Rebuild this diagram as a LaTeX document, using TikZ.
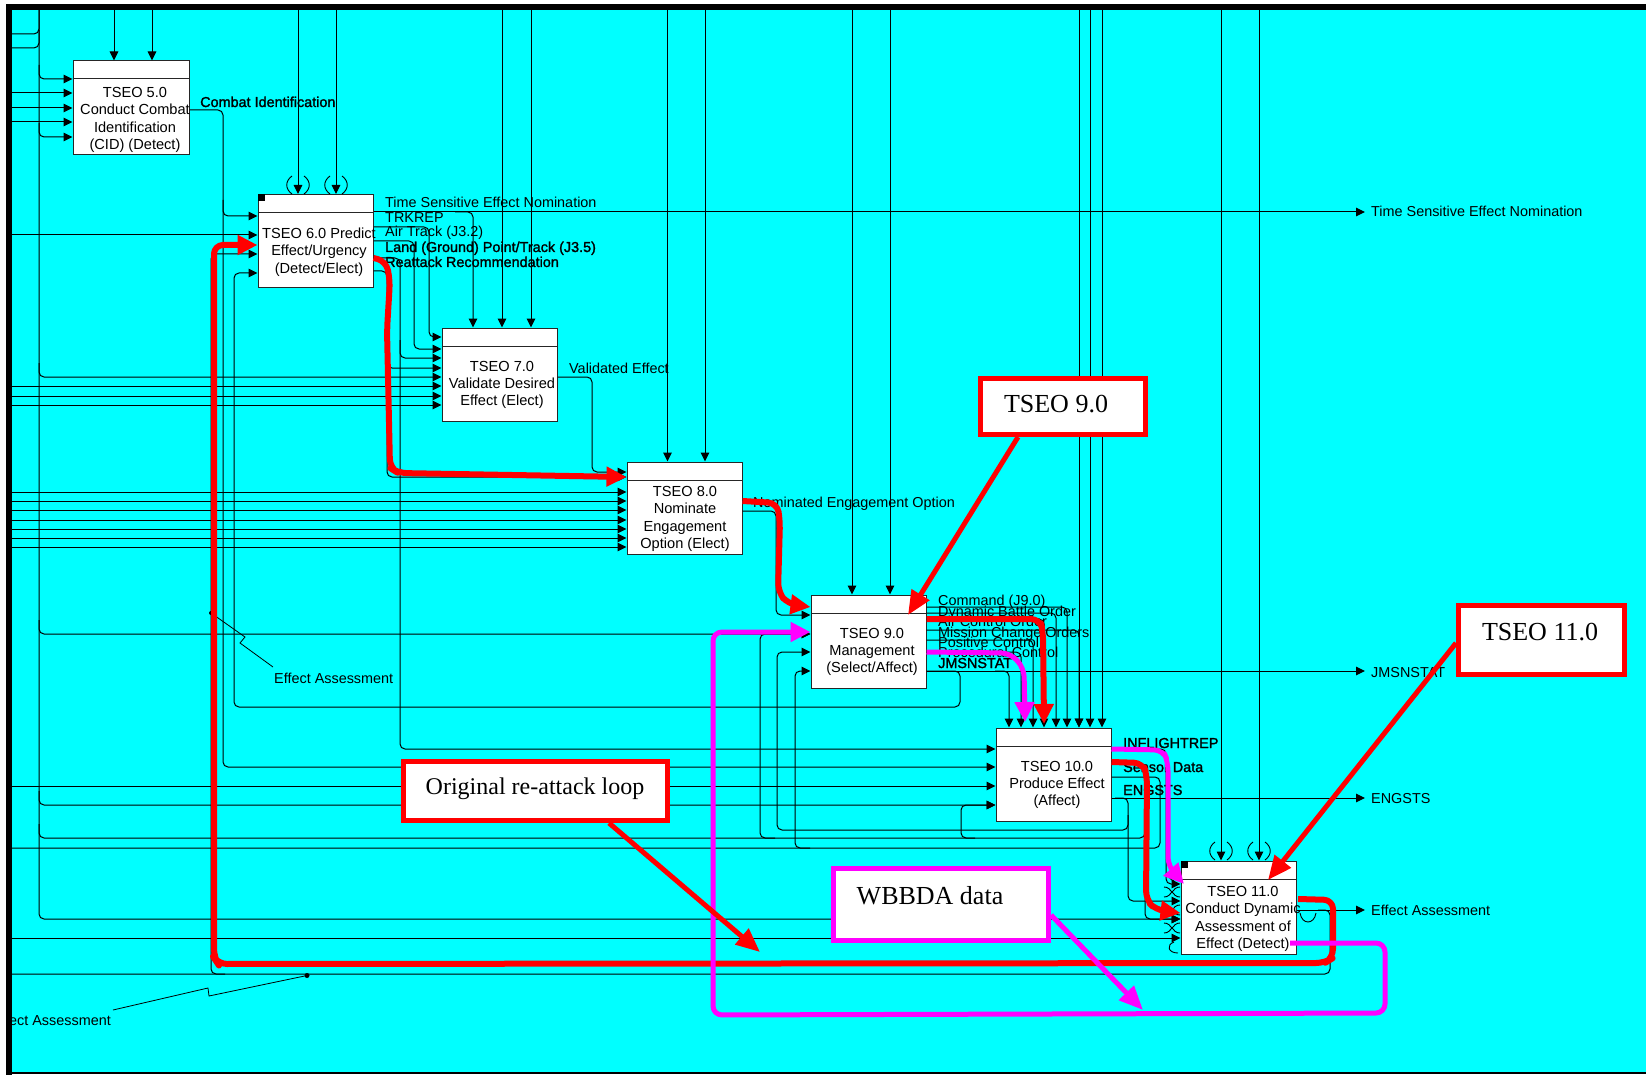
\documentclass[tikz,border=0pt]{standalone}
\usepackage{fontspec}
\setmainfont{Liberation Sans}
\newfontfamily\calloutfont{Liberation Serif}
\newfontfamily\heavyfont[FakeBold=1.5]{Liberation Sans}
\usetikzlibrary{arrows.meta,calc}

\definecolor{sky}{RGB}{0,255,255}
\definecolor{loopred}{RGB}{255,0,0}
\definecolor{wbbda}{RGB}{255,0,255}

\tikzset{
  wire/.style={line width=1pt, rounded corners=5pt},
  arrowin/.style={-{Triangle[length=9pt,width=8.5pt]}},
  proc/.style={draw=black!85, line width=1pt, fill=white, minimum width=115pt, minimum height=93pt, inner sep=0pt},
  proctext/.style={align=center, inner sep=0pt, font=\fontsize{14.6}{17.3}\selectfont},
  lbl/.style={anchor=base west, inner sep=0pt, font=\fontsize{14.4}{17}\selectfont},
  hlbl/.style={anchor=base west, inner sep=0pt, font=\heavyfont\fontsize{14.4}{17}\selectfont},
  redloop/.style={draw=loopred, line width=6pt, rounded corners=9pt, line join=round, -{Triangle[length=20pt,width=19pt]}},
  pinkloop/.style={draw=wbbda, line width=5pt, rounded corners=9pt, line join=round, -{Triangle[length=20pt,width=19pt]}},
  callout/.style={draw=loopred, line width=5pt, fill=white, inner sep=0pt},
  callouttext/.style={inner sep=0pt, font=\calloutfont\fontsize{26}{30}\selectfont},
  pointer/.style={draw=loopred, line width=5pt, -{Triangle[length=24pt,width=20pt]}},
  tunnel/.style={line width=0.9pt},
}

\begin{document}
\begin{tikzpicture}[x=1pt,y=-1pt]
\useasboundingbox (0,0) rectangle (1646,1075);
\fill[white] (0,0) rectangle (1646,1075);
\fill[sky] (12,10) rectangle (1646,1073);

% ---------------- activity boxes ----------------
\node[proc, minimum width=116pt, minimum height=94pt] (p5) at (131,108) {};
\node[proc] (p6) at (315.5,241) {};
\node[proc] (p7) at (499.5,374.5) {};
\node[proc, minimum height=92pt] (p8) at (684.5,508) {};
\node[proc] (p9) at (868.5,641.5) {};
\node[proc] (p10) at (1053.5,774.5) {};
\node[proc] (p11) at (1238.5,907.5) {};
\foreach \p in {p5,p6,p7,p8,p9,p10,p11}
  \draw[line width=1pt, black!85] ($(\p.north west)+(0,18.5)$) -- ($(\p.north east)+(0,18.5)$);
\fill ($(p6.north west)$) rectangle ++(7,7);
\fill ($(p11.north west)$) rectangle ++(7,7);

\node[proctext] (p5t) at (135,120) {TSEO 5.0\\Conduct Combat\\Identification\\(CID) (Detect)};
\node[proctext] (p6t) at (319,252) {TSEO 6.0 Predict\\Effect/Urgency\\(Detect/Elect)};
\node[proctext] (p7t) at (502,385) {TSEO 7.0\\Validate Desired\\Effect (Elect)};
\node[proctext] (p8t) at (685,519) {TSEO 8.0\\Nominate\\Engagement\\Option (Elect)};
\node[proctext] (p9t) at (872,652) {TSEO 9.0\\Management\\(Select/Affect)};
\node[proctext] (p10t) at (1057,785) {TSEO 10.0\\Produce Effect\\(Affect)};
\node[proctext] (p11t) at (1243,919) {TSEO 11.0\\Conduct Dynamic\\Assessment of\\Effect (Detect)};

% ---------------- controls from the top edge ----------------
\foreach \x in {114,152} \draw[wire,arrowin] (\x,10) -- (p5.north -| \x,0);
\foreach \x in {298,336} \draw[wire,arrowin] (\x,10) -- (p6.north -| \x,0);
\foreach \x in {502,531} \draw[wire,arrowin] (\x,10) -- (p7.north -| \x,0);
\foreach \x in {667.5,705} \draw[wire,arrowin] (\x,10) -- (p8.north -| \x,0);
\foreach \x in {852,890} \draw[wire,arrowin] (\x,10) -- (p9.north -| \x,0);
\foreach \x in {1079,1090,1102} \draw[wire,arrowin] (\x,10) -- (p10.north -| \x,0);
\foreach \x in {1221,1259} \draw[wire,arrowin] (\x,10) -- (p11.north -| \x,0);

% tunnelled controls
\foreach \x in {298,336} {
  \draw[tunnel] (\x-6,176) .. controls (\x-13,181) and (\x-13,189) .. (\x-6,194);
  \draw[tunnel] (\x+6,176) .. controls (\x+13,181) and (\x+13,189) .. (\x+6,194);
}
\foreach \x in {1221,1259} {
  \draw[tunnel] (\x-6,842) .. controls (\x-13,847) and (\x-13,855) .. (\x-6,860);
  \draw[tunnel] (\x+6,842) .. controls (\x+13,847) and (\x+13,855) .. (\x+6,860);
}
\foreach \y in {892,910,928} {
  \draw[tunnel] (1164,\y-5) .. controls (1172,\y-5) and (1172,\y+5) .. (1180,\y+5);
  \draw[tunnel] (1164,\y+5) .. controls (1172,\y+5) and (1172,\y-5) .. (1180,\y-5);
}
\draw[tunnel] (1178,870) .. controls (1168,870) and (1166,878) .. (1174,881);
\draw[tunnel] (1178,953) .. controls (1168,953) and (1166,945) .. (1174,942);
\draw[tunnel] (1300,913) .. controls (1302,925) and (1314,925) .. (1316,913);

% ---------------- inputs from the left edge ----------------
\foreach \y in {93,108,122} \draw[wire,arrowin] (12,\y) -- (p5.west |- 0,\y);
\draw[wire,arrowin] (12,235) -- (p6.west |- 0,235);
\foreach \y in {386,396,405} \draw[wire,arrowin] (12,\y) -- (p7.west |- 0,\y);
\foreach \y in {492,501,510,520,529,538,547} \draw[wire,arrowin] (12,\y) -- (p8.west |- 0,\y);
\draw[wire,arrowin] (12,786) -- (p10.west |- 0,786);
\draw[wire,arrowin] (12,938) -- (p11.west |- 0,938);

% trunk along the left side and its branches
\draw[wire] (12,34) -- (39,34) -- (39,10);
\draw[wire] (12,48) -- (39,48) -- (39,30);
\draw[wire,arrowin] (39,10) -- (39,919) -- (p11.west |- 0,919);
\draw[wire,arrowin] (39,65) -- (39,79) -- (p5.west |- 0,79);
\draw[wire,arrowin] (39,123) -- (39,137) -- (p5.west |- 0,137);
\draw[wire,arrowin] (39,363) -- (39,377) -- (p7.west |- 0,377);
\draw[wire,arrowin] (39,620) -- (39,634) -- (p9.west |- 0,634);
\draw[wire,arrowin] (39,791) -- (39,805) -- (p10.west |- 0,805);

% ---------------- TSEO 5.0 output ----------------
\draw[wire,arrowin] (p5.east |- 0,110) -- (223,110) -- (223,216) -- (p6.west |- 0,216);
\draw[wire,arrowin] (223,200) -- (223,767) -- (p10.west |- 0,767);

% ---------------- TSEO 6.0 outputs ----------------
\coordinate (tsenOut) at (1365,212);
\draw[wire,arrowin] (p6.east |- 0,212) -- (tsenOut);
\draw[wire,arrowin] (455,212) -- (473,212) -- (p7.north -| 473,0);
\draw[wire,arrowin] (p6.east |- 0,227) -- (429,227) -- (429,337) -- (p7.west |- 0,337);
\draw[wire,arrowin] (p6.east |- 0,241) -- (414,241) -- (414,349) -- (p7.west |- 0,349);
\draw[wire,arrowin] (p6.east |- 0,258) -- (400,258) -- (400,358) -- (p7.west |- 0,358);
\draw[wire,arrowin] (400,340) -- (400,749) -- (p10.west |- 0,749);
\draw[wire,arrowin] (p6.east |- 0,271) -- (387,271) -- (387,368) -- (p7.west |- 0,368);
\draw[wire,arrowin] (387,350) -- (387,477) -- (p8.west |- 0,477);

% ---------------- TSEO 7.0 / 8.0 outputs ----------------
\draw[wire,arrowin] (p7.east |- 0,377) -- (592,377) -- (592,472) -- (p8.west |- 0,472);
\draw[wire,arrowin] (p8.east |- 0,511) -- (776,511) -- (776,615) -- (p9.west |- 0,615);

% ---------------- TSEO 9.0 outputs ----------------
\draw[wire,arrowin] (p9.east |- 0,607) -- (1067,607) -- (p10.north -| 1067,0);
\draw[wire,arrowin] (p9.east |- 0,613) -- (1056,613) -- (p10.north -| 1056,0);
\draw[wire,arrowin] (p9.east |- 0,619) -- (1044,619) -- (p10.north -| 1044,0);
\draw[wire,arrowin] (p9.east |- 0,630) -- (1079,630) -- (p10.north -| 1079,0);
\draw[wire,arrowin] (p9.east |- 0,640) -- (1033,640) -- (p10.north -| 1033,0);
\draw[wire,arrowin] (p9.east |- 0,652) -- (1021,652) -- (p10.north -| 1021,0);
\coordinate (jmsOut) at (1365,671);
\draw[wire,arrowin] (p9.east |- 0,671) -- (jmsOut);
\draw[wire,arrowin] (995,671) -- (1009,671) -- (p10.north -| 1009,0);
\draw[wire,arrowin] (p9.east |- 0,671) -- (960,671) -- (960,707) -- (234,707) -- (234,273) -- (p6.west |- 0,273);

% ---------------- TSEO 10.0 outputs ----------------
\draw[wire,arrowin] (p10.east |- 0,749) -- (1166,749) -- (1166,884) -- (p11.west |- 0,884);
\draw[wire,arrowin] (p10.east |- 0,763) -- (1145,763) -- (1145,919) -- (p11.west |- 0,919);
\draw[wire] (1145,824) -- (1145,838) -- (39,838) -- (39,824);
\draw[wire,arrowin] (775,838) -- (760,838) -- (760,634) -- (p9.west |- 0,634);
\draw[wire,arrowin] (975,838) -- (961,838) -- (961,805) -- (p10.west |- 0,805);
\draw[wire] (p10.east |- 0,777) -- (1160,777) -- (1160,848) -- (12,848);
\draw[wire,arrowin] (810,848) -- (795,848) -- (795,671) -- (p9.west |- 0,671);
\coordinate (engOut) at (1365,798);
\draw[wire,arrowin] (p10.east |- 0,798) -- (engOut);
\draw[wire,arrowin] (1115,798) -- (1128,798) -- (1128,901) -- (p11.west |- 0,901);
\draw[wire,arrowin] (1128,815) -- (1128,830) -- (777,830) -- (777,652) -- (p9.west |- 0,652);

% ---------------- TSEO 11.0 outputs ----------------
\coordinate (eaOut) at (1365,910);
\draw[wire,arrowin] (p11.east |- 0,910) -- (eaOut);
\draw[wire] (1318,910) -- (1330,910) -- (1330,974) -- (12,974);
\draw[wire,arrowin] (225,974) -- (211,974) -- (211,254) -- (p6.west |- 0,254);

% ---------------- arrow labels ----------------
\node[hlbl] (lcid) at (200,107) {Combat Identification};
\node[lbl] (ltsen) at (385,208) {Time Sensitive Effect Nomination};
\node[lbl] (ltrk) at (385,223) {TRKREP};
\node[lbl] (lair) at (385,237) {Air Track (J3.2)};
\node[hlbl] (lland) at (385,252) {Land (Ground) Point/Track (J3.5)};
\node[hlbl] (lrea) at (385,267) {Reattack Recommendation};
\node[lbl] (lval) at (569,373) {Validated Effect};
\node[lbl] (lneo) at (753,507) {Nominated Engagement Option};
\node[lbl] (lcmd) at (938,605) {Command (J9.0)};
\node[lbl] (ldbo) at (938,616) {Dynamic Battle Order};
\node[lbl] (laco) at (938,626) {Air Control Order};
\node[lbl] (lmco) at (938,637) {Mission Change Orders};
\node[lbl] (lpc) at (938,647) {Positive Control};
\node[lbl] (lprc) at (938,657) {Procedural Control};
\node[hlbl] (ljms) at (938,668) {JMSNSTAT};
\node[hlbl] (linf) at (1123,748) {INFLIGHTREP};
\node[hlbl] (lsen) at (1123,772) {Sensor Data};
\node[hlbl] (leng) at (1123,795) {ENGSTS};
\node[lbl] (rtsen) at (1371,217) {Time Sensitive Effect Nomination};
\node[lbl] (rjms) at (1371,677) {JMSNSTAT};
\node[lbl] (reng) at (1371,803) {ENGSTS};
\node[lbl] (rea) at (1371,915) {Effect Assessment};

% squiggle labels for the assessment feedback
\fill (211,613) circle (2);
\draw[line width=0.8pt] (211,613) -- (245,637) -- (240,643) -- (273,667);
\node[lbl] (lea1) at (274,683) {Effect Assessment};
\fill (307,975.5) circle (2.5);
\draw[line width=0.8pt] (307,975.5) -- (209,996) -- (208,988) -- (113,1010);
\node[lbl, anchor=base east] (lea2) at (111,1025) {Effect Assessment};

% ---------------- re-attack loop (red) ----------------
\draw[redloop] (p6.east |- 0,258) -- (386,261) -- (390,280) -- (387,330) -- (390,468) -- (398,473) -- (p8.west |- 0,477);
\draw[redloop] (p8.east |- 0,501) -- (777,503) -- (780,520) -- (778,592) -- (788,604) -- (p9.west |- 0,607);
\draw[redloop] (p9.east |- 0,619) -- (1040,619) -- (1043,632) -- (1044,724);
\draw[redloop] (p10.east |- 0,762) -- (1143,763) -- (1147,776) -- (1146,900) -- (1156,910) -- (p11.west |- 0,913);
\draw[redloop] (1298,899) -- (1333,900) -- (1333,958) -- (1325,963) -- (218,964) -- (214,958) -- (214,245) -- (p6.west |- 0,245);

% ---------------- WBBDA data paths (magenta) ----------------
\draw[pinkloop] (1290,943) -- (1385,943) -- (1385,1013) -- (713,1015) -- (713,632) -- (p9.west |- 0,632);
\draw[pinkloop] (p9.east |- 0,652) -- (1010,653) -- (1024,668) -- (1025,722);
\draw[pinkloop] (p10.east |- 0,749) -- (1163,750) -- (1168,762) -- (1168,866) -- (1184,884);

% ---------------- callouts ----------------
\node[callout, minimum width=165pt, minimum height=56pt] (c9) at (1063,406.5) {};
\node[callouttext] (c9t) at (1056,404) {TSEO 9.0};
\draw[pointer] (c9.south -| 1018,0) -- (908,615);

\node[callout, minimum width=166pt, minimum height=69pt] (c11) at (1541.5,640) {};
\node[callouttext] (c11t) at (1540,632) {TSEO 11.0};
\draw[pointer] (c11.west |- 0,643) -- (1268,880);

\node[callout, minimum width=264pt, minimum height=59pt] (cr) at (535.5,791) {};
\node[callouttext, font=\calloutfont\fontsize{24}{28}\selectfont] (crt) at (535,789) {Original re-attack loop};
\draw[pointer] (cr.south -| 609,0) -- (760,952);

\node[callout, draw=wbbda, minimum width=215pt, minimum height=72pt] (cw) at (941,904.5) {};
\node[callouttext] (cwt) at (930,896) {WBBDA data};
\draw[pointer, draw=wbbda] (cw.east |- 0,915) -- (1143,1010);

% ---------------- frame ----------------
\fill[white] (0,0) rectangle (6,1075);
\fill[white] (0,0) rectangle (1646,4);
\fill[black] (6,4) rectangle (1646,10);
\fill[black] (6,4) rectangle (12,1075);
\draw[line width=1.5pt] (12,1073) -- (1646,1073);
\end{tikzpicture}
\end{document}
